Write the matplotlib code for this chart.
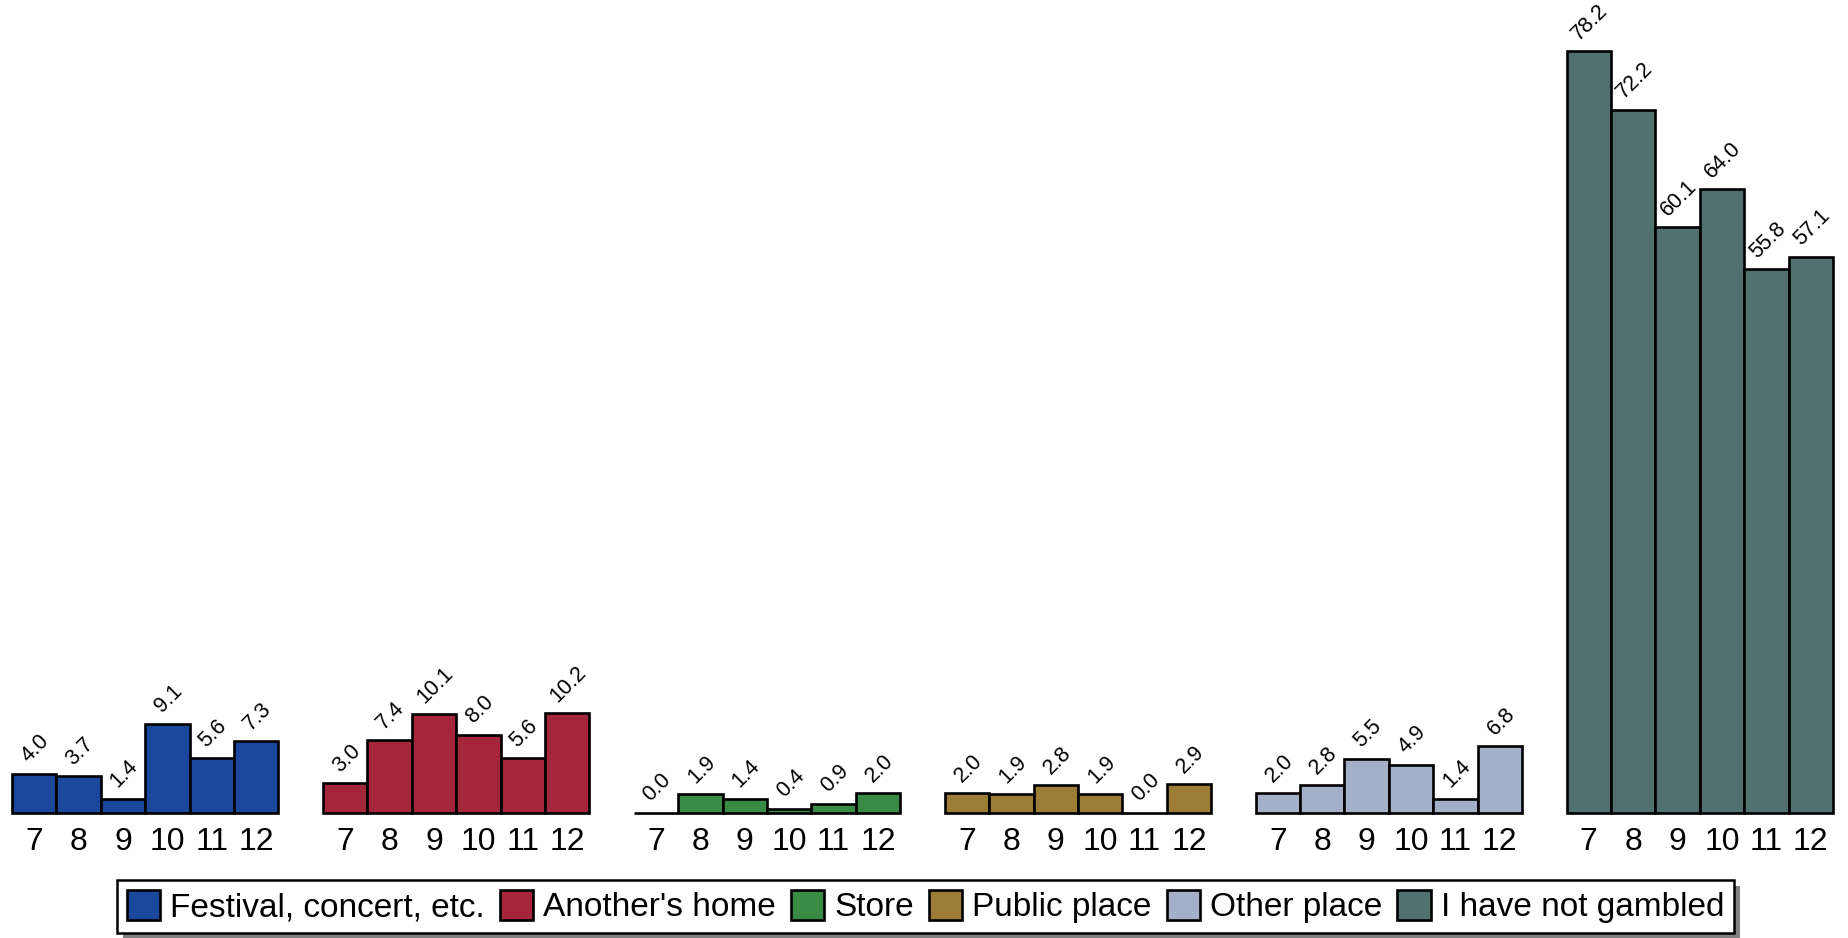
import numpy as np
import matplotlib
matplotlib.use('Agg')
import matplotlib.pyplot as plt
from matplotlib.patches import Rectangle, Patch

plt.rcParams['font.family'] = ['Liberation Sans', 'DejaVu Sans']

grades = ['7', '8', '9', '10', '11', '12']
places = ['Festival, concert, etc.', "Another's home", 'Store',
          'Public place', 'Other place', 'I have not gambled']

festival = [4.0, 3.7, 1.4, 9.1, 5.6, 7.3]
another_home = [3.0, 7.4, 10.1, 8.0, 5.6, 10.2]
store = [0.0, 1.9, 1.4, 0.4, 0.9, 2.0]
public_place = [2.0, 1.9, 2.8, 1.9, 0.0, 2.9]
other_place = [2.0, 2.8, 5.5, 4.9, 1.4, 6.8]
not_gambled = [78.2, 72.2, 60.1, 64.0, 55.8, 57.1]

colors = ['#1b479c', '#a3263a', '#398a45', '#9b7d35', '#a3b0c8', '#517070']

series = [festival, another_home, store, public_place, other_place, not_gambled]

fig = plt.figure(figsize=(18.49, 9.38), dpi=100)
ax = fig.add_axes([12 / 1849, 125.5 / 938, 1821 / 1849, 778.8 / 938])

xticks = []
xlabels = []
for g, (vals, col) in enumerate(zip(series, colors)):
    x = np.arange(len(grades)) + g * 7
    bars = ax.bar(x, vals, width=1.0, color=col, edgecolor='black',
                  linewidth=1.9, clip_on=False)
    for b, v in zip(bars, vals):
        ax.annotate(f'{v:.1f}', (b.get_x() + b.get_width() / 2, v),
                    xytext=(1, 5), textcoords='offset points',
                    ha='center', va='bottom', rotation=45, fontsize=15.5,
                    annotation_clip=False)
    xticks.extend(x)
    xlabels.extend(grades)

ax.set_xlim(-0.5, 40.5)
ax.set_ylim(0, 80)
ax.set_xticks(xticks)
ax.set_xticklabels(xlabels, fontsize=23)
ax.tick_params(axis='x', length=0, pad=10.5)
ax.set_yticks([])
for s in ax.spines.values():
    s.set_visible(False)

handles = [Patch(facecolor=c, edgecolor='black', linewidth=1.9) for c in colors]
leg = fig.legend(handles, places, loc='center', bbox_to_anchor=(0.5006, 0.0336),
                 ncol=6, fontsize=24, frameon=True, fancybox=False, framealpha=1,
                 handlelength=1.0, handleheight=1.05, handletextpad=0.3,
                 columnspacing=0.45, borderpad=0.3, borderaxespad=0)
leg.get_frame().set_edgecolor('black')
leg.get_frame().set_facecolor('white')
leg.get_frame().set_linewidth(1.8)

# drop shadow behind the legend box
fig.canvas.draw()
bb = leg.get_window_extent()
shadow = Rectangle((bb.x0 + 6, bb.y0 - 6), bb.width, bb.height, transform=None,
                   facecolor='#808080', edgecolor='none', zorder=4)
fig.add_artist(shadow)

fig.savefig('out.png', dpi=100)
